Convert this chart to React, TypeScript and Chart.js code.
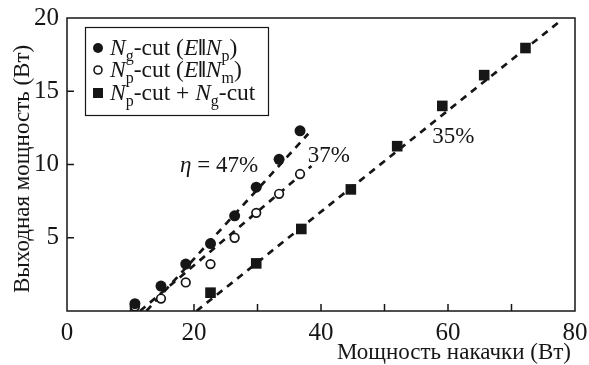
import React, { useEffect, useRef } from 'react';
import { Chart, registerables } from 'chart.js';
Chart.register(...registerables);

// Data
const ngCutX = [10.7, 14.8, 18.7, 22.6, 26.4, 29.8, 33.4, 36.7];
const ngCutY = [0.5, 1.7, 3.2, 4.6, 6.5, 8.45, 10.35, 12.3];
const npCutX = [10.7, 14.8, 18.7, 22.6, 26.4, 29.8, 33.4, 36.7];
const npCutY = [0.3, 0.85, 1.95, 3.2, 5.0, 6.7, 8.0, 9.35];
const bothX = [22.6, 29.8, 36.9, 44.7, 52.0, 59.1, 65.7, 72.2];
const bothY = [1.25, 3.25, 5.6, 8.3, 11.25, 14.0, 16.1, 17.95];

const fit47X = [12.5, 38.0];
const fit47Y = [0, 12.1];
const fit37X = [11.5, 38.5];
const fit37Y = [0, 9.9];
const fit35X = [20.4, 77.4];
const fit35Y = [0, 19.7];

const xTickLabels = [0, 20, 40, 60, 80];
const yTickLabels = [5, 10, 15, 20];
const xTitle = 'Мощность накачки (Вт)';
const yTitle = 'Выходная мощность (Вт)';

type Part = { t: string; i?: boolean; sub?: boolean; b?: boolean };
const legendRows: { marker: string; parts: Part[] }[] = [
  { marker: 'filled', parts: [{ t: 'N', i: true }, { t: 'g', sub: true }, { t: '-cut (' }, { t: 'E', i: true }, { t: '‖', b: true }, { t: 'N', i: true }, { t: 'p', sub: true }, { t: ')' }] },
  { marker: 'open', parts: [{ t: 'N', i: true }, { t: 'p', sub: true }, { t: '-cut (' }, { t: 'E', i: true }, { t: '‖', b: true }, { t: 'N', i: true }, { t: 'm', sub: true }, { t: ')' }] },
  { marker: 'square', parts: [{ t: 'N', i: true }, { t: 'p', sub: true }, { t: '-cut + ' }, { t: 'N', i: true }, { t: 'g', sub: true }, { t: '-cut' }] },
];

// annotation anchors (data units)
const annotations: { x: number; y: number; parts: Part[] }[] = [
  { x: 17.8, y: 9.5, parts: [{ t: 'η', i: true }, { t: ' = 47%' }] },
  { x: 37.9, y: 10.2, parts: [{ t: '37%' }] },
  { x: 57.5, y: 11.5, parts: [{ t: '35%' }] },
];

const FONT = '"Liberation Serif", "DejaVu Serif", serif';
const INK = '#161616';

function drawRich(ctx: CanvasRenderingContext2D, x: number, y: number, parts: Part[], size: number) {
  let cx = x;
  for (const p of parts) {
    const fs = p.sub ? size * 0.68 : size;
    ctx.font = `${p.i ? 'italic ' : ''}${p.b ? 'bold ' : ''}${fs}px ${FONT}`;
    ctx.fillText(p.t, cx, p.sub ? y + size * 0.26 : y);
    cx += ctx.measureText(p.t).width;
  }
}

const pts = (xs: number[], ys: number[]) => xs.map((x, i) => ({ x, y: ys[i] }));

const decor = {
  id: 'decor',
  afterDraw(chart: any) {
    const { ctx, chartArea: a, scales } = chart;
    const xs = scales.x, ys = scales.y;
    ctx.save();
    ctx.strokeStyle = INK;
    ctx.fillStyle = INK;
    ctx.lineWidth = 1.5;
    ctx.strokeRect(a.left, a.top, a.right - a.left, a.bottom - a.top);
    // inside tick marks
    ctx.beginPath();
    for (let v = 10; v < 80; v += 10) {
      const px = xs.getPixelForValue(v);
      ctx.moveTo(px, a.bottom);
      ctx.lineTo(px, a.bottom - 7);
    }
    for (let v = 5; v < 20; v += 5) {
      const py = ys.getPixelForValue(v);
      ctx.moveTo(a.left, py);
      ctx.lineTo(a.left + 7, py);
    }
    ctx.stroke();

    // axis titles
    ctx.textBaseline = 'alphabetic';
    ctx.font = `23px ${FONT}`;
    ctx.textAlign = 'right';
    ctx.fillText(xTitle, a.right - 4, 359);
    ctx.save();
    ctx.translate(29, a.bottom - 18);
    ctx.rotate(-Math.PI / 2);
    ctx.textAlign = 'left';
    ctx.fillText(yTitle, 0, 0);
    ctx.restore();

    // annotations
    ctx.textAlign = 'left';
    for (const an of annotations) {
      drawRich(ctx, xs.getPixelForValue(an.x), ys.getPixelForValue(an.y), an.parts, 23);
    }

    // legend
    ctx.fillStyle = '#fff';
    ctx.fillRect(85, 27, 183, 88);
    ctx.lineWidth = 1.2;
    ctx.strokeRect(85.5, 27.5, 183, 88);
    ctx.fillStyle = INK;
    const rowsY = [48, 70, 93];
    legendRows.forEach((r, i) => {
      const cy = rowsY[i];
      const mx = 98;
      ctx.beginPath();
      if (r.marker === 'filled') {
        ctx.arc(mx, cy, 5, 0, Math.PI * 2);
        ctx.fill();
      } else if (r.marker === 'open') {
        ctx.lineWidth = 1.6;
        ctx.arc(mx, cy, 4, 0, Math.PI * 2);
        ctx.stroke();
      } else {
        ctx.fillRect(mx - 5, cy - 5, 10, 10);
      }
      drawRich(ctx, 110, cy + 7, r.parts, 23.5);
    });
    ctx.restore();
  },
};

export default function App() {
  const ref = useRef<HTMLCanvasElement>(null);
  useEffect(() => {
    if (!ref.current) return;
    const lineDs = (xs: number[], ys: number[]) => ({
      data: pts(xs, ys),
      showLine: true,
      borderColor: INK,
      borderWidth: 2.7,
      borderDash: [7, 6],
      borderCapStyle: 'butt',
      pointRadius: 0,
      order: 2,
    });
    const chart = new Chart(ref.current, {
      type: 'scatter',
      data: {
        datasets: [
          {
            data: pts(ngCutX, ngCutY),
            pointStyle: 'circle',
            pointRadius: 5.5,
            backgroundColor: INK,
            borderColor: INK,
            borderWidth: 0,
            order: 0,
          },
          {
            data: pts(npCutX, npCutY),
            pointStyle: 'circle',
            pointRadius: 4.3,
            backgroundColor: '#fff',
            borderColor: INK,
            borderWidth: 1.7,
            order: 0,
          },
          {
            data: pts(bothX, bothY),
            pointStyle: 'rect',
            pointRadius: 7.5,
            backgroundColor: INK,
            borderColor: INK,
            borderWidth: 0,
            order: 0,
          },
          lineDs(fit47X, fit47Y),
          lineDs(fit37X, fit37Y),
          lineDs(fit35X, fit35Y),
        ],
      } as any,
      options: {
        responsive: false,
        animation: false,
        devicePixelRatio: 1,
        layout: { padding: { top: 18, right: 14, left: 0, bottom: 0 } },
        plugins: { legend: { display: false }, tooltip: { enabled: false } },
        scales: {
          x: {
            type: 'linear',
            min: 0,
            max: 80,
            grid: { display: false, drawTicks: false },
            border: { display: false },
            ticks: {
              stepSize: 10,
              padding: 7,
              color: INK,
              font: { family: FONT, size: 25 },
              maxRotation: 0,
              autoSkip: false,
              callback: (v: any) => (xTickLabels.includes(Number(v)) ? String(v) : ''),
            },
            afterFit: (s: any) => {
              s.height = 54;
              s.paddingLeft = 0;
              s.paddingRight = 0;
              s.paddingTop = 0;
              s.paddingBottom = 0;
            },
          },
          y: {
            type: 'linear',
            min: 0,
            max: 20,
            grid: { display: false, drawTicks: false },
            border: { display: false },
            ticks: {
              stepSize: 5,
              padding: 8,
              color: INK,
              font: { family: FONT, size: 25 },
              callback: (v: any) => (yTickLabels.includes(Number(v)) ? String(v) : ''),
            },
            afterFit: (s: any) => {
              s.width = 67;
              s.paddingLeft = 0;
              s.paddingRight = 0;
              s.paddingTop = 0;
              s.paddingBottom = 0;
            },
          },
        },
      } as any,
      plugins: [decor],
    });
    return () => chart.destroy();
  }, []);
  return (
    <div style={{ position: 'absolute', left: 0, top: 0, width: 589, height: 365, background: '#fff' }}>
      <canvas ref={ref} width={589} height={365} />
    </div>
  );
}
